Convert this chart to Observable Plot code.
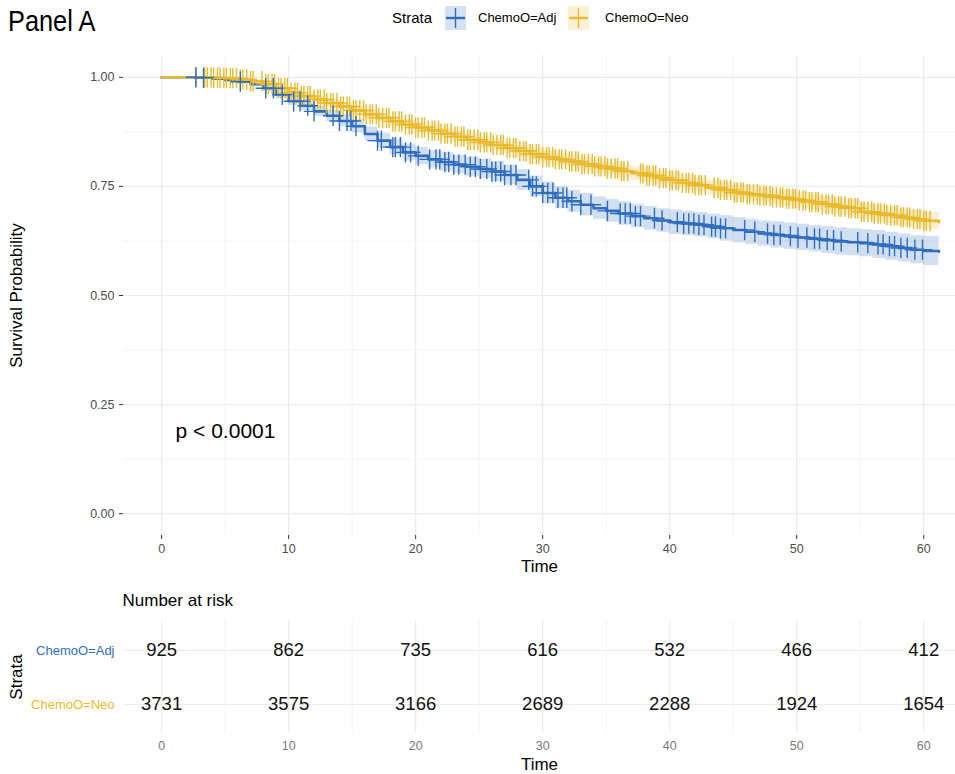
<!DOCTYPE html>
<html>
<head>
<meta charset="utf-8">
<script src="https://cdn.jsdelivr.net/npm/d3@7"></script>
<script src="https://cdn.jsdelivr.net/npm/@observablehq/plot@0.6"></script>
<style>
  body { margin: 0; background: #fff; }
  #wrap { position: relative; width: 955px; height: 774px; font-family: "Liberation Sans", Arial, sans-serif; overflow: hidden; }
  .abs { position: absolute; z-index: 2; white-space: nowrap; }
  #title { left: 8px; top: 4px; font-size: 30px; color: #000; transform: scaleX(0.845); transform-origin: left top; }
  .leg { font-size: 13px; line-height: 16px; color: #000; }
</style>
</head>
<body>
<div id="wrap">
  <div id="main" style="position:absolute;left:0;top:0"></div>
  <div id="risk" style="position:absolute;left:0;top:580px"></div>
  <div id="title" class="abs">Panel A</div>
  <div class="abs" style="left:392px;top:9px;font-size:15px;line-height:18px">Strata</div>
  <svg class="abs" style="left:445px;top:6px" width="21" height="24"><rect width="21" height="24" fill="#2F6EBF" fill-opacity="0.2"/><line x1="1" x2="20" y1="12" y2="12" stroke="#2F6EBF" stroke-width="2.4"/><line x1="10.5" x2="10.5" y1="2" y2="22" stroke="#2F6EBF" stroke-width="1.4"/></svg>
  <div class="abs leg" style="left:478px;top:10px">ChemoO=Adj</div>
  <svg class="abs" style="left:568px;top:6px" width="21" height="24"><rect width="21" height="24" fill="#E8BA2C" fill-opacity="0.2"/><line x1="1" x2="20" y1="12" y2="12" stroke="#E8BA2C" stroke-width="2.4"/><line x1="10.5" x2="10.5" y1="2" y2="22" stroke="#E8BA2C" stroke-width="1.4"/></svg>
  <div class="abs leg" style="left:605px;top:10px">ChemoO=Neo</div>
</div>
<script>
// ---------- data ----------
const strata = ["ChemoO=Adj", "ChemoO=Neo"];
const colors = ["#2F6EBF", "#E8BA2C"];

const timeGrid = [
  0,1,2,3,4,5,6,7,8,9,
  10,11,12,13,14,15,16,17,18,19,
  20,21,22,23,24,25,26,27,28,29,
  30,31,32,33,34,35,36,37,38,39,
  40,41,42,43,44,45,46,47,48,49,
  50,51,52,53,54,55,56,57,58,59,
  60,61.2
];

const survAdj = [
  1.000,1.000,1.000,0.999,0.997,0.994,0.990,0.984,0.975,0.960,
  0.945,0.935,0.922,0.912,0.900,0.888,0.870,0.855,0.840,0.828,
  0.820,0.812,0.806,0.800,0.795,0.790,0.784,0.776,0.765,0.750,
  0.735,0.724,0.716,0.708,0.700,0.694,0.688,0.682,0.677,0.672,
  0.668,0.665,0.662,0.658,0.654,0.650,0.646,0.642,0.639,0.636,
  0.633,0.630,0.627,0.624,0.622,0.620,0.617,0.613,0.609,0.605,
  0.602,0.600
];

const survNeo = [
  1.000,1.000,1.000,1.000,0.999,0.998,0.995,0.991,0.985,0.975,
  0.965,0.957,0.949,0.941,0.933,0.924,0.915,0.907,0.899,0.892,
  0.885,0.878,0.871,0.864,0.857,0.851,0.845,0.838,0.831,0.824,
  0.817,0.812,0.807,0.801,0.796,0.791,0.785,0.780,0.775,0.769,
  0.764,0.758,0.753,0.747,0.742,0.736,0.732,0.729,0.725,0.722,
  0.718,0.714,0.709,0.704,0.700,0.692,0.688,0.684,0.679,0.675,
  0.671,0.668
];

const ciAdj = [
  0,0,0,0.002,0.003,0.004,0.005,0.006,0.007,0.008,
  0.010,0.011,0.012,0.013,0.014,0.015,0.016,0.017,0.018,0.019,
  0.020,0.020,0.021,0.021,0.022,0.022,0.023,0.023,0.024,0.024,
  0.025,0.025,0.025,0.026,0.026,0.026,0.027,0.027,0.027,0.027,
  0.028,0.028,0.028,0.028,0.029,0.029,0.029,0.029,0.030,0.030,
  0.030,0.030,0.031,0.031,0.031,0.031,0.032,0.032,0.032,0.032,
  0.033,0.033
];

const ciNeo = [
  0,0,0,0,0.001,0.002,0.003,0.004,0.005,0.006,
  0.007,0.007,0.008,0.008,0.009,0.009,0.010,0.010,0.011,0.011,
  0.011,0.012,0.012,0.012,0.013,0.013,0.013,0.013,0.014,0.014,
  0.014,0.014,0.015,0.015,0.015,0.015,0.015,0.016,0.016,0.016,
  0.016,0.016,0.016,0.017,0.017,0.017,0.017,0.017,0.017,0.018,
  0.018,0.018,0.018,0.018,0.018,0.018,0.019,0.019,0.019,0.019,
  0.019,0.019
];

const censorAdj = [2.7,3.3,6.2,8.2,8.8,9.5,10.4,10.9,11.5,12.0,13.5,14.0,14.6,14.9,15.3,17.0,17.3,18.2,18.4,18.8,19.2,19.6,20.2,21.1,21.6,21.9,22.3,22.6,23.0,23.4,23.9,24.3,24.7,25.1,25.6,26.0,26.3,26.7,27.0,27.5,27.9,28.9,29.2,29.5,30.0,30.4,30.8,31.2,31.6,31.9,32.3,33.0,33.8,35.1,36.1,36.5,36.9,37.3,37.7,38.8,39.4,40.6,41.1,41.5,41.9,42.3,42.7,43.3,43.6,44.0,44.4,45.9,46.7,47.7,48.2,48.7,49.5,50.1,50.8,51.4,51.8,52.4,52.9,53.5,54.8,55.6,56.4,56.8,57.3,57.7,58.2,58.7,59.3,59.9];

const censorNeo = [2.7,3.4,3.6,3.9,4.1,4.4,4.6,4.9,5.1,5.4,5.6,5.9,6.2,6.4,6.7,7.0,7.2,
  7.9,8.2,8.4,8.7,8.9,9.2,9.4,9.7,9.9,10.2,10.5,10.7,11.0,11.2,11.5,11.7,12.0,12.3,12.5,12.8,13.0,13.3,13.5,13.8,14.1,14.3,14.6,14.8,15.1,15.3,15.6,15.9,16.1,16.4,16.6,16.9,17.1,17.4,17.7,17.9,18.2,18.4,18.7,18.9,19.2,19.5,19.7,20.0,20.2,20.5,20.7,21.0,21.3,21.5,21.8,22.0,22.3,22.5,22.8,23.1,23.3,23.6,23.8,24.1,24.3,24.6,24.9,25.1,25.4,25.6,25.9,26.1,26.4,26.7,26.9,27.2,27.4,27.7,27.9,28.2,28.5,28.7,29.0,29.2,29.5,29.7,30.0,30.3,30.5,30.8,31.0,31.3,31.5,31.8,32.1,32.3,32.6,32.8,33.1,33.3,33.6,33.9,34.1,34.4,34.6,34.9,35.1,35.4,35.7,35.9,36.2,36.4,36.7,
  37.7,37.9,38.2,38.4,38.7,38.9,39.2,39.5,39.7,40.0,40.2,40.5,40.7,41.0,41.3,41.5,41.8,42.0,42.3,42.5,42.8,
  43.5,43.8,44.0,44.3,44.5,44.8,45.1,45.3,45.6,45.8,46.1,46.3,46.6,46.9,47.1,47.4,47.6,47.9,48.1,48.4,48.7,48.9,49.2,49.4,49.7,49.9,50.2,50.5,50.7,51.0,51.2,51.5,51.7,52.0,52.3,52.5,52.8,53.0,53.3,53.5,53.8,54.1,54.3,54.6,54.8,55.1,55.3,55.6,55.9,56.1,56.4,56.6,56.9,57.1,57.4,57.7,57.9,58.2,58.4,58.7,58.9,59.2,59.5,59.7,60.0,60.2,60.5];

const xTicks = [0,10,20,30,40,50,60];
const xMinor = [5,15,25,35,45,55];
const yTicks = [0,0.25,0.5,0.75,1];
const yMinor = [0.125,0.375,0.625,0.875];

const riskTimes = [0,10,20,30,40,50,60];
const riskAdj = [925,862,735,616,532,466,412];
const riskNeo = [3731,3575,3166,2689,2288,1924,1654];

const pLabel = "p < 0.0001";
const pvalPos = {x: 1.1, y: 0.19};

// ---------- derived tables ----------
function curveRows(surv, ci, name) {
  return timeGrid.map((t, i) => ({t, s: surv[i], lo: Math.max(0, surv[i] - ci[i]), hi: Math.min(1, surv[i] + ci[i]), strata: name}));
}
function stepAt(surv, t) {
  const i = d3.bisectRight(timeGrid, t) - 1;
  return surv[Math.max(0, i)];
}
const rowsAdj = curveRows(survAdj, ciAdj, strata[0]);
const rowsNeo = curveRows(survNeo, ciNeo, strata[1]);
const cenAdj = censorAdj.map(t => ({t, s: stepAt(survAdj, t)}));
const cenNeo = censorNeo.map(t => ({t, s: stepAt(survNeo, t)}));

const riskRows = [];
riskTimes.forEach((t, i) => {
  riskRows.push({t, strata: strata[0], n: riskAdj[i]});
  riskRows.push({t, strata: strata[1], n: riskNeo[i]});
});

const font = "'Liberation Sans', Arial, sans-serif";
const gridMajor = "#ebebeb";
const gridMinor = "#f4f4f4";
const xDomain = [-3, 62.5];

// ---------- main survival plot ----------
const main = Plot.plot({
  width: 955, height: 580,
  marginLeft: 123, marginRight: 0, marginTop: 55, marginBottom: 45,
  style: {fontFamily: font, background: "transparent"},
  x: {domain: xDomain},
  y: {domain: [-0.05, 1.05]},
  marks: [
    Plot.ruleX(xMinor, {stroke: gridMinor, strokeWidth: 1}),
    Plot.ruleY(yMinor, {stroke: gridMinor, strokeWidth: 1}),
    Plot.ruleX(xTicks, {stroke: gridMajor, strokeWidth: 1.2}),
    Plot.ruleY(yTicks, {stroke: gridMajor, strokeWidth: 1.2}),
    Plot.areaY(rowsAdj, {x: "t", y1: "lo", y2: "hi", curve: "step-after", fill: colors[0], fillOpacity: 0.22}),
    Plot.areaY(rowsNeo, {x: "t", y1: "lo", y2: "hi", curve: "step-after", fill: colors[1], fillOpacity: 0.22}),
    Plot.lineY(rowsAdj, {x: "t", y: "s", curve: "step-after", stroke: colors[0], strokeWidth: 2.6}),
    Plot.lineY(rowsNeo, {x: "t", y: "s", curve: "step-after", stroke: colors[1], strokeWidth: 2.6}),
    Plot.dot(cenNeo, {x: "t", y: "s", symbol: "plus", r: 6.6, stroke: colors[1], fill: "none", strokeWidth: 1.4}),
    Plot.dot(cenAdj, {x: "t", y: "s", symbol: "plus", r: 6.6, stroke: colors[0], fill: "none", strokeWidth: 1.4}),
    Plot.text([pLabel], {x: pvalPos.x, y: pvalPos.y, textAnchor: "start", fontSize: 21, fill: "#000"}),
    Plot.axisX(xTicks, {tickSize: 4, tickPadding: 5, fontSize: 12.5, color: "#4d4d4d", stroke: "#333", label: null}),
    Plot.axisY(yTicks, {tickSize: 4, tickPadding: 5, fontSize: 12.5, color: "#4d4d4d", stroke: "#333", label: null, tickFormat: d3.format(".2f")}),
    Plot.text(["Time"], {frameAnchor: "bottom", dy: 31, lineAnchor: "middle", fontSize: 17, fill: "#000"}),
    Plot.text(["Survival Probability"], {frameAnchor: "left", dx: -107, rotate: -90, textAnchor: "middle", lineAnchor: "middle", fontSize: 17, fill: "#000"})
  ]
});
document.getElementById("main").appendChild(main);

// ---------- number-at-risk table ----------
const risk = Plot.plot({
  width: 955, height: 194,
  marginLeft: 123, marginRight: 0, marginTop: 40, marginBottom: 41,
  style: {fontFamily: font, background: "transparent"},
  x: {domain: xDomain},
  y: {type: "point", domain: strata, padding: 0.546, axis: null},
  marks: [
    Plot.ruleX(xMinor, {stroke: gridMinor, strokeWidth: 1}),
    Plot.ruleX(xTicks, {stroke: gridMajor, strokeWidth: 1.2}),
    Plot.ruleY(strata, {y: d => d, stroke: gridMajor, strokeWidth: 1.2}),
    Plot.text(riskRows, {x: "t", y: "strata", text: d => String(d.n), fontSize: 18.5, fill: "#111"}),
    Plot.text([strata[0]], {y: d => d, frameAnchor: "left", dx: -9, textAnchor: "end", fontSize: 13, fill: colors[0]}),
    Plot.text([strata[1]], {y: d => d, frameAnchor: "left", dx: -9, textAnchor: "end", fontSize: 13, fill: colors[1]}),
    Plot.axisX(riskTimes, {tickSize: 0, tickPadding: 8, fontSize: 12.5, color: "#7a7a7a", label: null}),
    Plot.text(["Time"], {frameAnchor: "bottom", dy: 31, lineAnchor: "middle", fontSize: 17, fill: "#000"}),
    Plot.text(["Strata"], {frameAnchor: "left", dx: -107, rotate: -90, textAnchor: "middle", lineAnchor: "middle", fontSize: 17, fill: "#000"}),
    Plot.text(["Number at risk"], {frameAnchor: "top-left", dy: -20, dx: -1, textAnchor: "start", lineAnchor: "middle", fontSize: 17, fill: "#000"})
  ]
});
document.getElementById("risk").appendChild(risk);
</script>
</body>
</html>
